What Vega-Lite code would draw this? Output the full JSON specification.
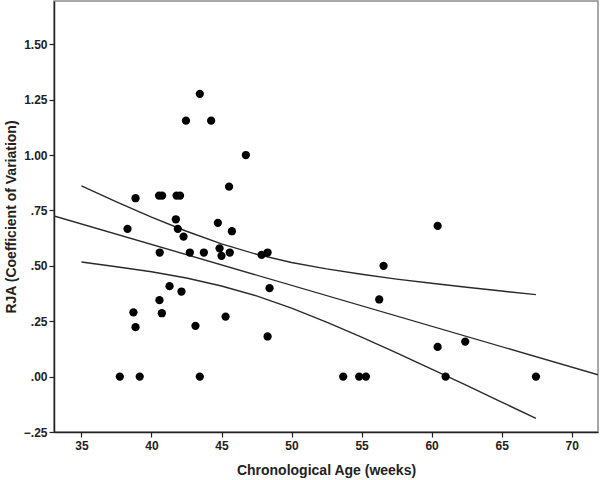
{
  "$schema": "https://vega.github.io/schema/vega-lite/v6.json",
  "width": 544,
  "height": 431,
  "autosize": {"type": "none"},
  "padding": {"left": 54, "top": 1, "right": 2, "bottom": 48},
  "background": "white",
  "config": {
    "view": {"stroke": "#8c8c8c", "strokeWidth": 1.5},
    "axis": {
      "labelFont": "Liberation Sans",
      "titleFont": "Liberation Sans",
      "labelFontWeight": "bold",
      "titleFontWeight": "bold",
      "labelColor": "#222222",
      "titleColor": "#222222",
      "domainColor": "#222222",
      "domainWidth": 1.5,
      "tickColor": "#222222",
      "tickWidth": 1.2,
      "tickSize": 5,
      "grid": false,
      "labelFontSize": 12,
      "titleFontSize": 14
    }
  },
  "datasets": {
    "points": [
      {"age": 43.45, "rja": 1.276},
      {"age": 42.46, "rja": 1.155},
      {"age": 44.26, "rja": 1.155},
      {"age": 46.74, "rja": 1.0},
      {"age": 45.54, "rja": 0.857},
      {"age": 38.86, "rja": 0.805},
      {"age": 40.54, "rja": 0.817},
      {"age": 40.76, "rja": 0.817},
      {"age": 41.79, "rja": 0.817},
      {"age": 42.04, "rja": 0.817},
      {"age": 41.74, "rja": 0.71},
      {"age": 44.74, "rja": 0.694},
      {"age": 38.29, "rja": 0.667},
      {"age": 41.88, "rja": 0.667},
      {"age": 45.74, "rja": 0.656},
      {"age": 42.29, "rja": 0.632},
      {"age": 40.59, "rja": 0.56},
      {"age": 42.74, "rja": 0.56},
      {"age": 43.74, "rja": 0.56},
      {"age": 44.86, "rja": 0.579},
      {"age": 45.0, "rja": 0.545},
      {"age": 45.59, "rja": 0.56},
      {"age": 47.86, "rja": 0.549},
      {"age": 48.29, "rja": 0.56},
      {"age": 48.43, "rja": 0.399},
      {"age": 41.29, "rja": 0.408},
      {"age": 42.14, "rja": 0.384},
      {"age": 40.57, "rja": 0.345},
      {"age": 38.71, "rja": 0.29},
      {"age": 40.74, "rja": 0.286},
      {"age": 38.86, "rja": 0.223},
      {"age": 43.14, "rja": 0.229},
      {"age": 45.29, "rja": 0.271},
      {"age": 48.29, "rja": 0.181},
      {"age": 37.74, "rja": 0.0},
      {"age": 39.16, "rja": 0.0},
      {"age": 43.45, "rja": 0.0},
      {"age": 56.57, "rja": 0.5},
      {"age": 56.26, "rja": 0.348},
      {"age": 60.43, "rja": 0.134},
      {"age": 62.4, "rja": 0.158},
      {"age": 53.69, "rja": 0.0},
      {"age": 54.83, "rja": 0.0},
      {"age": 55.31, "rja": 0.0},
      {"age": 61.0, "rja": 0.0},
      {"age": 67.45, "rja": 0.0},
      {"age": 60.43, "rja": 0.68}
    ],
    "lines": [
      {"line": "fit", "age": 33.04, "value": 0.725},
      {"line": "fit", "age": 71.88, "value": 0.008},
      {"line": "upper", "age": 35, "value": 0.861},
      {"line": "upper", "age": 37.5, "value": 0.789},
      {"line": "upper", "age": 40, "value": 0.72},
      {"line": "upper", "age": 42.5, "value": 0.656},
      {"line": "upper", "age": 45, "value": 0.599},
      {"line": "upper", "age": 47.5, "value": 0.552},
      {"line": "upper", "age": 50, "value": 0.515},
      {"line": "upper", "age": 52.5, "value": 0.486},
      {"line": "upper", "age": 55, "value": 0.462},
      {"line": "upper", "age": 57.5, "value": 0.44},
      {"line": "upper", "age": 60, "value": 0.421},
      {"line": "upper", "age": 62.5, "value": 0.403},
      {"line": "upper", "age": 65, "value": 0.386},
      {"line": "upper", "age": 67.45, "value": 0.37},
      {"line": "lower", "age": 35, "value": 0.517},
      {"line": "lower", "age": 37.5, "value": 0.496},
      {"line": "lower", "age": 40, "value": 0.473},
      {"line": "lower", "age": 42.5, "value": 0.445},
      {"line": "lower", "age": 45, "value": 0.409},
      {"line": "lower", "age": 47.5, "value": 0.364},
      {"line": "lower", "age": 50, "value": 0.309},
      {"line": "lower", "age": 52.5, "value": 0.246},
      {"line": "lower", "age": 55, "value": 0.178},
      {"line": "lower", "age": 57.5, "value": 0.107},
      {"line": "lower", "age": 60, "value": 0.034},
      {"line": "lower", "age": 62.5, "value": -0.04},
      {"line": "lower", "age": 65, "value": -0.115},
      {"line": "lower", "age": 67.45, "value": -0.189}
    ]
  },
  "layer": [
    {
      "data": {"name": "lines"},
      "mark": {"type": "line", "color": "#2a2a2a", "strokeWidth": 1.4, "clip": true},
      "encoding": {
        "x": {
          "field": "age", "type": "quantitative",
          "scale": {"domain": [33.04, 71.88], "nice": false, "zero": false},
          "axis": {"values": [35, 40, 45, 50, 55, 60, 65, 70], "title": "Chronological Age (weeks)", "labelPadding": 3, "titlePadding": 12}
        },
        "y": {
          "field": "value", "type": "quantitative",
          "scale": {"domain": [-0.25, 1.695], "nice": false, "zero": false},
          "axis": {
            "values": [-0.25, 0, 0.25, 0.5, 0.75, 1, 1.25, 1.5],
            "labelExpr": "replace(format(datum.value, '.2f'), '0.', '.')",
            "title": "RJA (Coefficient of Variation)",
            "labelPadding": 2,
            "titlePadding": 5
          }
        },
        "detail": {"field": "line", "type": "nominal"}
      }
    },
    {
      "data": {"name": "points"},
      "mark": {"type": "circle", "color": "#000000", "opacity": 1, "size": 68},
      "encoding": {
        "x": {"field": "age", "type": "quantitative"},
        "y": {"field": "rja", "type": "quantitative"}
      }
    }
  ]
}
